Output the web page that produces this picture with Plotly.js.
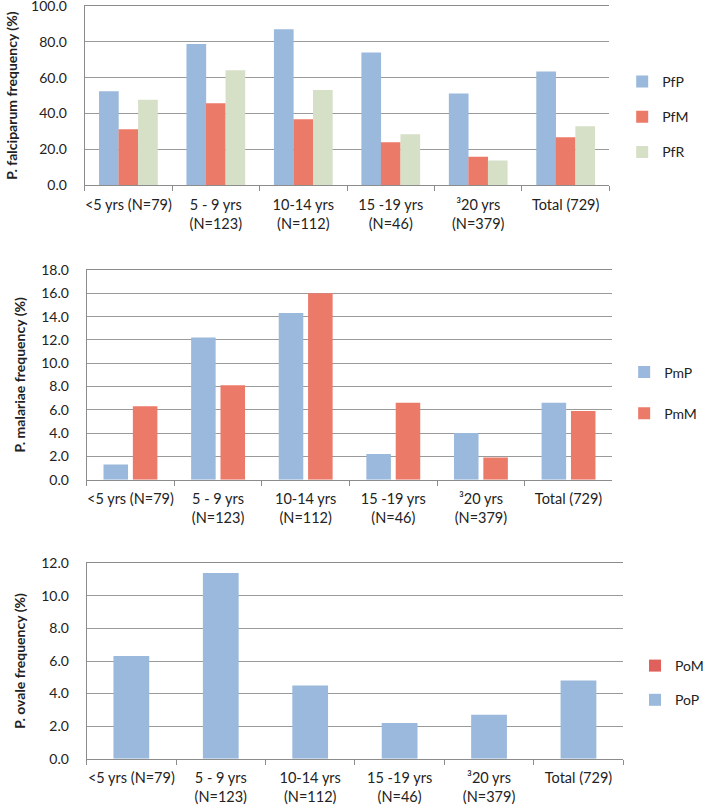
<!DOCTYPE html>
<html><head><meta charset="utf-8">
<script src="https://cdn.plot.ly/plotly-3.0.1.min.js"></script>
<style>html,body{margin:0;padding:0;background:#fff;overflow:hidden}#c{width:709px;height:810px}</style>
</head><body><div id="c"></div>
<script>
const categories = ["<5 yrs (N=79)", "5 - 9 yrs<br>(N=123)", "10-14 yrs<br>(N=112)", "15 -19 yrs<br>(N=46)", "³20 yrs<br>(N=379)", "Total (729)"];
const PfP = [52.5, 78.8, 87.1, 74.1, 51.2, 63.4];
const PfM = [31.2, 45.8, 36.8, 24.0, 15.9, 26.8];
const PfR = [47.7, 64.1, 53.2, 28.5, 13.9, 32.9];
const PmP = [1.3, 12.2, 14.3, 2.2, 4.0, 6.6];
const PmM = [6.3, 8.1, 16.0, 6.6, 1.9, 5.9];
const PoM = [null, null, null, null, null, null];
const PoP = [6.3, 11.4, 4.5, 2.2, 2.7, 4.8];
const Y1_TICKS = [0, 20, 40, 60, 80, 100];
const Y2_TICKS = [0, 2, 4, 6, 8, 10, 12, 14, 16, 18];
const Y3_TICKS = [0, 2, 4, 6, 8, 10, 12];

const BLUE = "#9ab9dc", RED = "#ec7a69", GREEN = "#d6e0c7", RED2 = "#e0605c";
const FONT = "Lato, 'Open Sans', sans-serif";
const W = 709, H = 810;

function bar(name, y, color, xa, ya, leg, grp, w) {
  return {type: "bar", name: name, x: categories, y: y, xaxis: xa, yaxis: ya, width: w,
    marker: {color: color}, legend: leg, legendgroup: grp, hoverinfo: "y"};
}
const data = [
  bar("PfP", PfP, BLUE, "x", "y", "legend", "a", 0.225),
  bar("PfM", PfM, RED, "x", "y", "legend", "b", 0.225),
  bar("PfR", PfR, GREEN, "x", "y", "legend", "c", 0.225),
  bar("PmP", PmP, BLUE, "x2", "y2", "legend2", "d", 0.28),
  bar("PmM", PmM, RED, "x2", "y2", "legend2", "e", 0.28),
  bar("PoM", PoM, RED2, "x3", "y3", "legend3", "f", 0.40),
  bar("PoP", PoP, BLUE, "x3", "y3", "legend3", "g", 0.40),
];
data[5].offsetgroup = "p3"; data[6].offsetgroup = "p3";

function xax(l, r, anchor) {
  return {domain: [l / W, r / W], anchor: anchor, type: "category",
    showline: true, mirror: true, linecolor: "#8c8c8c", linewidth: 1,
    ticks: "outside", tickson: "boundaries", ticklen: 5, tickcolor: "#8c8c8c",
    showgrid: false, tickangle: 0, tickfont: {family: FONT, size: 14.5, color: "#222"},
    ticklabelstandoff: 6, fixedrange: true};
}
function yax(top, bot, max, ticks, anchor, title, standoff) {
  return {domain: [1 - bot / H, 1 - top / H], anchor: anchor, range: [0, max],
    tickmode: "array", tickvals: ticks, ticktext: ticks.map(v => v.toFixed(1)),
    showline: true, linecolor: "#8c8c8c", linewidth: 1,
    showgrid: true, gridcolor: "#9a9a9a", gridwidth: 1, zeroline: false,
    ticks: "", tickfont: {family: FONT, size: 14, color: "#222"},
    ticklabelstandoff: 14, ticklabeloverflow: "allow", fixedrange: true,
    title: {text: "<b>" + title + "</b>", font: {family: FONT, size: 14, color: "#222"}, standoff: standoff}};
}
function leg(x, y, gap) {
  return {x: x / W, y: 1 - y / H, xref: "paper", yref: "paper", xanchor: "left", yanchor: "middle",
    font: {family: FONT, size: 14, color: "#222"}, traceorder: "grouped", tracegroupgap: gap,
    bgcolor: "rgba(0,0,0,0)", itemwidth: 30};
}

const layout = {
  width: W, height: H, margin: {l: 0, r: 0, t: 0, b: 0},
  paper_bgcolor: "#fff", plot_bgcolor: "#fff",
  barmode: "group", bargap: 0.33, bargroupgap: 0,
  xaxis: xax(86, 619, "y"), yaxis: yax(6, 185.3, 100, Y1_TICKS, "x", "P. falciparum frequency (%)", 10),
  xaxis2: xax(88, 622, "y2"), yaxis2: yax(270, 479.7, 18, Y2_TICKS, "x2", "P. malariae frequency (%)", 12),
  xaxis3: xax(88, 633, "y3"), yaxis3: yax(563.3, 758.7, 12, Y3_TICKS, "x3", "P. ovale frequency (%)", 12),
  legend: leg(632, 117, 14),
  legend2: leg(634, 393, 20),
  legend3: leg(645, 683, 13),
  showlegend: true,
};
Plotly.newPlot("c", data, layout, {staticPlot: true, displayModeBar: false});
</script></body></html>
